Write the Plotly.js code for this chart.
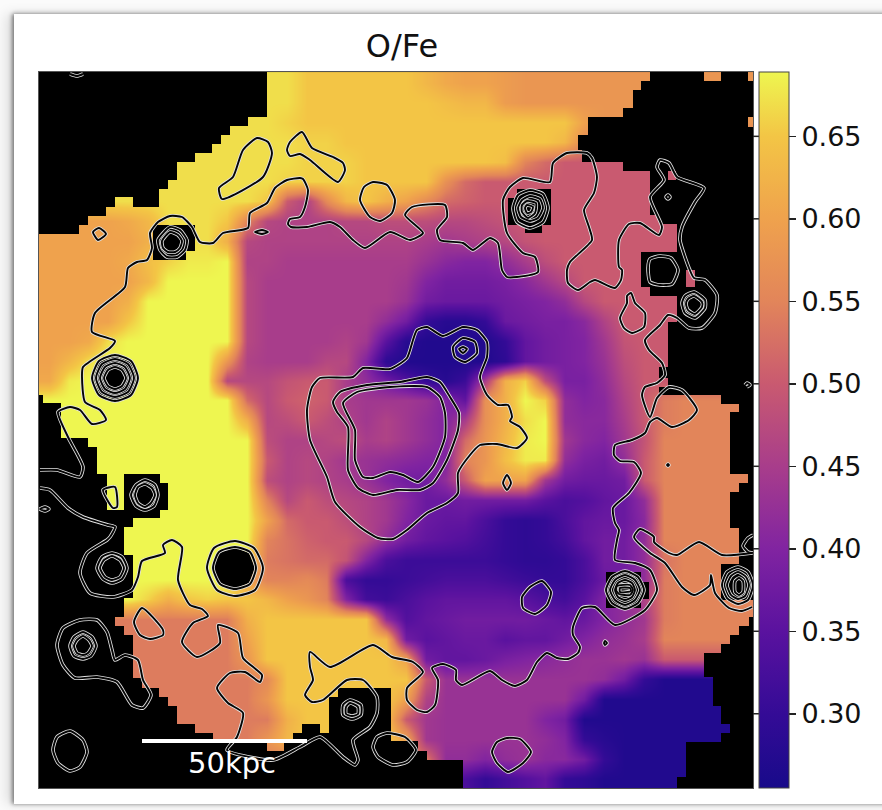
<!DOCTYPE html>
<html>
<head>
<meta charset="utf-8">
<script src="https://cdn.plot.ly/plotly-3.0.1.min.js"></script>
<style>
html,body{margin:0;padding:0;background:#fbfbfb;width:882px;height:810px;overflow:hidden}
#card{position:absolute;left:14px;top:14px;width:900px;height:790px;background:#fff;box-shadow:-2px 0 4px rgba(0,0,0,.45),-8px 0 12px rgba(0,0,0,.12),0 -3px 4px rgba(0,0,0,.05)}
#chart{position:absolute;left:0;top:0;width:882px;height:810px}
</style>
</head>
<body>
<div id="card"></div>
<div id="chart"></div>
<script>
// O/Fe ratio, in hundredths, on a 36 x 36 grid (top row first)
const ratioRows = [
[67,67,67,67,67,67,67,67,67,67,67,67,67,65,65,65,65,65,65,63,61,60,60,59,58,58,58,58,58,58,58,58,58,58,58,58],
[67,67,67,67,67,67,67,67,67,67,67,67,67,65,65,65,65,65,65,65,64,63,63,59,58,58,58,58,58,58,58,58,58,58,58,58],
[67,67,67,67,67,67,67,67,67,67,67,67,66,65,65,65,65,65,65,65,65,65,65,65,65,65,65,60,58,58,58,58,58,58,58,58],
[67,67,67,67,67,67,67,67,67,67,67,67,67,66,66,65,65,65,65,65,65,65,65,65,65,65,63,56,54,52,52,52,52,52,52,52],
[67,67,67,67,67,67,67,67,67,67,67,67,67,66,66,66,65,65,65,65,65,65,65,64,55,52,50,50,50,50,50,50,50,50,50,50],
[67,67,67,67,67,67,67,67,67,67,67,67,66,66,66,66,65,65,65,65,57,52,50,50,50,50,50,50,50,50,50,50,50,50,50,50],
[67,67,67,67,67,67,67,67,67,67,67,65,50,46,56,63,65,62,60,56,52,51,50,50,50,50,50,50,50,50,50,50,50,50,50,50],
[60,60,60,60,61,63,67,67,67,65,55,47,46,46,46,47,47,48,48,48,47,47,48,49,50,50,50,50,50,50,50,50,50,50,50,50],
[60,60,60,60,60,62,66,67,67,62,47,46,46,46,46,46,46,46,46,45,44,45,46,47,49,50,50,50,50,50,50,50,50,50,50,50],
[60,60,60,60,61,64,66,68,68,69,46,46,45,45,45,45,45,45,45,43,41,40,40,42,45,48,50,50,50,50,50,50,50,50,50,50],
[60,60,60,60,60,63,69,69,69,69,47,45,45,45,45,45,45,45,44,40,38,38,38,39,41,44,47,50,50,50,50,50,50,50,50,50],
[60,60,60,60,62,69,69,69,69,69,47,45,45,45,45,45,45,45,43,38,37,37,37,38,39,40,42,47,50,50,50,50,50,50,50,50],
[60,60,60,60,65,69,69,69,69,69,47,45,45,45,45,45,45,42,38,30,28,28,30,37,38,39,39,41,46,50,50,50,50,50,50,50],
[60,60,61,67,69,69,69,69,69,69,47,45,45,45,45,46,44,35,28,27,27,27,27,30,36,38,39,40,44,49,50,50,50,50,50,50],
[60,63,67,69,69,69,69,69,69,58,46,45,45,45,47,47,40,29,27,27,27,27,27,29,36,38,39,40,43,48,50,50,50,50,50,50],
[61,68,69,69,69,69,69,69,69,47,47,47,49,50,50,45,42,38,34,30,28,31,45,62,66,48,39,39,42,47,50,50,50,50,50,50],
[69,69,69,69,69,69,69,69,69,69,52,47,50,51,50,45,44,44,44,43,40,36,57,62,69,66,42,40,41,46,50,54,55,55,55,55],
[69,69,69,69,69,69,69,69,69,69,62,47,48,50,48,46,44,46,44,42,40,45,57,62,67,69,42,41,41,45,50,54,55,55,55,55],
[69,69,69,69,69,69,69,69,69,69,69,48,46,46,47,48,45,46,44,42,40,52,58,63,68,69,44,41,40,44,49,55,55,55,55,55],
[69,69,69,69,69,69,69,69,69,69,69,50,46,47,46,44,43,42,41,40,40,55,58,64,68,68,42,39,38,42,50,55,55,55,55,55],
[69,69,69,69,69,69,69,69,69,69,69,48,46,47,46,45,43,40,38,38,42,50,60,60,60,44,38,37,37,38,50,55,55,55,55,55],
[69,69,69,69,69,69,69,69,69,69,69,55,47,50,48,47,46,44,41,37,37,38,38,38,38,35,33,34,36,37,42,55,55,55,55,55],
[69,69,69,69,69,69,69,69,69,69,69,60,52,50,50,48,46,44,40,37,36,36,33,30,29,30,33,36,37,37,41,55,55,55,55,55],
[69,69,69,69,69,69,69,69,69,69,69,55,53,51,50,50,47,42,38,36,35,34,32,30,29,30,32,36,38,38,42,55,55,55,55,55],
[69,69,69,69,69,69,69,69,69,69,67,54,53,52,52,49,40,33,31,31,31,31,31,30,29,29,30,33,38,38,42,53,55,55,55,55],
[69,69,69,69,69,69,69,69,69,69,60,55,55,56,54,33,30,30,31,32,33,33,33,32,31,30,30,33,37,38,42,54,55,55,55,55],
[69,69,69,69,69,66,62,65,66,65,65,63,60,58,55,40,32,31,33,35,36,36,36,36,35,33,32,35,40,42,46,54,55,55,55,55],
[54,54,54,54,54,54,54,54,54,54,62,65,65,65,65,65,65,42,34,36,37,38,38,38,38,37,36,37,40,42,44,54,55,55,55,55],
[54,54,54,54,54,54,54,54,54,54,60,65,65,65,65,65,65,63,38,35,36,37,37,35,36,36,38,40,42,43,45,55,55,55,55,55],
[54,54,54,54,54,54,54,54,54,54,58,65,65,65,65,65,65,65,60,38,36,36,37,39,40,41,42,43,43,44,43,50,50,50,50,50],
[54,54,54,54,54,54,54,54,54,54,54,56,65,65,65,65,65,65,65,50,43,43,43,43,43,43,43,43,42,38,30,27,27,27,27,27],
[54,54,54,54,54,54,54,54,54,54,54,58,65,65,65,65,65,65,60,46,43,43,43,43,43,43,43,38,27,27,27,27,27,27,27,27],
[54,54,54,54,54,54,54,54,54,54,54,54,62,65,65,65,65,65,50,44,43,43,43,43,43,40,38,27,27,27,27,27,27,27,27,27],
[54,54,54,54,54,54,54,54,54,54,54,58,63,65,65,65,65,65,60,44,43,43,43,43,43,42,40,30,28,27,27,27,27,27,27,27],
[54,54,54,54,54,54,54,54,54,54,54,54,54,54,54,54,54,54,54,54,42,42,40,42,43,41,41,38,30,27,27,27,27,27,27,27],
[54,54,54,54,54,54,54,54,54,54,54,54,54,54,54,54,54,54,54,54,35,33,30,32,34,36,30,29,27,27,27,27,27,27,27,27]
];
const tickValues = [0.30,0.35,0.40,0.45,0.50,0.55,0.60,0.65];
const tickLabels = ['0.30','0.35','0.40','0.45','0.50','0.55','0.60','0.65'];
const ratioMin = 0.255, ratioMax = 0.689;
const chartTitle = 'O/Fe';
const scaleLabel = '50kpc';
const scaleBar = [[142,741],[307,741]];

// masked (no data) sky, in axis units: x0,y0,x1,y1
const maskBoxes = [
[39,72,267,117],[39,117,248,126],[39,126,230,135],[39,135,221,144],[39,144,212,153],[39,153,195,162],[39,162,177,180],[39,180,168,189],[39,189,159,197],[39,197,115,207],[133,197,159,207],[39,207,106,216],[39,216,88,225],[39,225,79,234],
[153,225,195,251],[153,251,186,260],
[650,72,704,81],[721,72,748,81],[641,81,753,90],[633,90,753,108],[623,108,753,117],[588,117,748,127],[588,127,753,135],[578,135,753,150],[582,150,753,162],[623,162,753,171],[650,171,668,180],[676,171,753,180],[650,180,753,215],[659,215,753,224],[677,224,753,252],[641,252,753,270],[641,270,686,287],[695,270,753,287],[650,287,753,296],[677,296,753,322],[668,322,753,367],[659,367,753,378],[668,378,753,387],[659,387,753,395],
[721,395,753,404],[739,404,753,412],[730,412,753,474],[748,474,753,483],[739,483,753,492],[730,492,753,528],[739,528,753,564],[721,564,753,600],
[749,617,753,626],[739,626,753,635],[730,635,753,644],[721,644,753,653],[704,653,753,677],[713,677,753,706],[721,706,753,724],[730,724,753,733],[721,733,753,742],[686,742,753,777],[677,777,753,788],
[606,572,641,608],[641,582,649,599],[517,189,551,225],[508,198,517,225],[525,225,542,233],
[39,395,43,403],[39,403,61,438],[39,438,88,447],[39,447,97,474],[39,474,107,510],[39,510,160,518],[124,474,160,510],[160,483,168,510],[39,518,133,527],[39,527,124,555],[39,555,133,598],[39,598,124,617],[39,617,115,626],[39,626,124,635],[39,635,133,678],[39,678,142,688],[39,688,159,697],[39,697,168,706],[39,706,177,724],[39,724,195,733],[39,733,213,741],[39,741,267,788],[267,751,284,788],[284,741,418,751],[284,751,427,760],[284,760,463,788],
[338,688,391,742],[329,697,338,742],[302,724,320,742],[293,733,329,742]
];
const maskHoles = [
[115,356,131,362,137,378,131,394,115,400,99,394,93,378,99,362],
[234,547,249,553,255,568,249,583,234,589,219,583,213,568,219,553]
];

// X-ray surface brightness contours, in axis units: x,y,x,y...
const contourMain = [40,470,57,470,80,477,83,467,68,437,58,412,70,407,80,410,92,424,106,420,100,410,85,402,82,377,83,367,110,348,115,341,92,332,95,313,125,287,128,268,137,262,147,260,152,248,150,233,158,222,170,216,182,217,192,227,200,242,213,243,223,233,248,228,250,213,267,203,275,188,287,180,300,178,303,179,308,190,305,207,300,217,290,219,288,224,291,227,307,227,330,222,340,227,353,240,365,248,390,232,410,240,423,233,405,215,412,207,445,205,447,217,437,230,440,240,463,243,473,250,490,238,498,243,502,270,507,277,517,277,538,272,535,257,523,253,507,233,503,200,510,187,523,178,550,182,553,163,567,153,587,153,592,158,597,177,594,193,584,210,589,227,592,240,570,262,567,270,568,283,578,290,590,282,595,280,615,288,621,280,622,270,619,267,619,240,629,224,640,223,659,235,662,227,650,197,664,180,657,167,660,160,669,163,677,177,704,188,695,202,682,227,680,240,689,268,694,278,705,280,717,295,715,313,702,328,689,328,677,318,668,315,660,325,645,340,649,350,662,363,665,375,657,383,645,387,642,395,650,417,657,398,669,387,682,390,697,410,689,420,672,427,657,418,650,422,645,433,632,440,615,445,614,455,620,461,634,462,641,473,629,493,613,508,615,523,619,530,617,540,615,560,635,563,650,570,657,590,645,610,615,625,595,607,582,608,573,627,573,635,580,647,578,653,568,659,557,658,547,653,537,662,527,680,515,686,502,680,490,671,462,685,456,680,456,670,443,664,432,668,438,680,435,705,427,712,417,710,407,700,407,688,423,672,413,662,392,657,373,645,330,667,310,652,310,667,313,680,305,695,312,702,323,700,347,680,363,680,377,697,377,713,370,727,353,740,358,760,355,765,343,757,320,737,300,747,273,760,227,750,237,737,243,713,228,703,217,688,230,673,245,672,260,682,262,675,243,658,238,633,218,625,220,643,197,657,182,642,193,623,208,616,202,609,190,605,178,580,182,547,172,540,163,545,165,553,142,561,138,577,132,590,113,597,90,593,80,573,87,553,107,540,110,537,115,527,108,525,83,517,68,508,50,490,40,488];
const contourCore = [417,330,427,327,443,336,463,327,477,330,487,342,487,357,480,377,487,395,498,405,508,405,512,417,510,421,520,427,527,438,517,448,497,444,480,445,470,455,458,473,458,493,447,503,427,513,407,530,393,539,378,538,360,527,335,502,327,477,310,440,307,410,312,387,320,378,353,377,363,368,390,369,407,358,413,340,417,330];
const contourRing1 = [333,402,340,392,367,385,400,382,427,377,440,382,450,397,459,413,458,430,447,460,433,483,420,490,397,490,373,495,358,488,348,470,348,427,337,412,333,402];
const contourRing2 = [343,403,357,392,390,387,427,387,440,397,445,413,445,437,433,467,418,482,403,475,390,472,373,478,363,477,355,460,355,430,343,403];
const contourEast = [752,553,722,555,699,542,677,555,669,553,654,542,654,537,640,529,634,537,650,553,665,563,682,587,694,595,710,585,711,575,715,593,729,608,742,611,752,607];
const contourSW = [57,645,63,628,80,620,97,620,107,632,112,650,115,660,125,655,138,660,143,680,151,695,143,708,132,705,117,682,97,677,75,678,63,665,57,645];
const contourBlobs = [
[463,338,475,342,477,353,465,362,455,357,453,347,463,338],
[463,347,467,349,463,353,459,349,463,347],
[507,475,511,483,507,490,503,483,507,475],
[257,138,268,142,272,153,263,177,222,199,219,188,233,177,243,150,257,138],
[302,132,312,148,333,157,343,163,345,170,338,182,310,160,300,154,290,156,287,150,290,142,302,132],
[373,182,387,185,395,200,392,213,380,221,370,217,360,200,364,187,373,182],
[255,232,262,230,268,232,262,234,255,232],
[93,232,99,228,106,234,98,240,93,232],
[70,74,77,76,83,74],
[170,227,180,230,187,240,185,250,177,257,167,257,160,250,158,240,170,227],
[170,232,178,235,182,241,180,248,175,252,168,252,163,248,162,241,170,232],
[530,190,543,194,548,208,543,222,530,228,517,222,513,208,518,195,530,190],
[530,196,540,199,543,208,538,218,530,221,521,217,518,208,522,200,530,196],
[527,201,536,203,535,213,528,218,522,212,522,205,527,201],
[527,205,533,207,531,212,527,213,525,208,527,205],
[666,197,668,195,670,197,668,199,666,197],
[660,256,671,258,678,270,672,284,660,285,650,282,648,268,650,259,660,256],
[694,292,705,300,705,308,695,318,685,313,682,303,685,296,694,292],
[694,296,702,302,702,307,695,314,688,310,686,304,688,299,694,296],
[631,293,635,303,645,313,644,327,632,333,624,328,620,318,627,303,627,296,631,293],
[745,385,747,383,750,385,747,387],
[667,465,668,464,669,465,668,466,667,465],
[604,643,605,641,607,643,605,645,604,643],
[625,571,638,577,644,590,638,603,625,609,612,603,606,590,612,577,625,571],
[625,575,635,580,640,590,635,600,625,605,615,600,610,590,615,580,625,575],
[625,580,632,583,635,590,632,597,625,600,618,597,615,590,618,583,625,580],
[617,586,630,585,633,590,630,595,619,594,616,590,617,586],
[620,588,630,588,631,591,620,592,620,588],
[738,567,748,572,753,585,748,600,738,604,727,598,722,585,727,572,738,567],
[738,572,746,577,749,585,745,596,738,599,731,595,727,585,731,576,738,572],
[739,578,743,581,743,592,739,595,735,592,735,581,739,578],
[753,535,748,538,743,546,748,552,753,553],
[115,355,131,361,138,378,131,395,115,401,99,395,92,378,99,361,115,355],
[115,359,128,364,134,378,128,392,115,397,102,392,96,378,102,364,115,359],
[115,363,125,367,130,378,125,389,115,393,105,389,100,378,105,367,115,363],
[115,367,122,370,126,378,122,386,115,389,108,386,104,378,108,370,115,367],
[145,480,155,485,158,495,154,506,145,510,136,506,131,495,136,485,145,480],
[145,484,152,488,155,495,151,503,145,507,138,503,135,495,138,487,145,484],
[103,490,115,487,117,507,113,508,103,490],
[40,509,45,507,49,509,45,511,40,509],
[112,553,122,557,127,568,122,579,112,583,103,579,97,568,102,557,112,553],
[112,556,120,560,124,568,120,577,112,580,105,577,100,568,104,560,112,556],
[83,632,92,637,96,646,91,656,83,659,74,656,70,646,74,637,83,632],
[83,636,89,640,92,646,88,653,83,655,77,653,74,646,77,640,83,636],
[70,731,83,740,87,752,80,767,70,771,58,763,53,750,57,737,70,731],
[142,608,163,630,163,635,150,639,140,635,134,622,142,608],
[235,541,254,548,263,568,255,590,235,596,217,590,207,568,214,548,235,541],
[235,547,250,552,256,568,250,584,235,589,220,584,213,568,219,552,235,547],
[350,700,361,705,361,715,352,719,343,715,343,705,350,700],
[350,703,358,707,358,714,352,716,346,714,346,707,350,703],
[387,733,405,737,416,750,407,762,393,765,378,757,373,747,377,737,387,733],
[507,738,520,739,531,752,523,763,508,772,497,763,492,752,497,742,507,738],
[542,581,551,592,547,605,535,614,523,608,522,597,530,587,542,581]
];

const colourStops = [
[0,'#180a8a'],[0.104,'#340b96'],[0.219,'#5a129f'],[0.334,'#8124a1'],[0.449,'#a83d8b'],[0.565,'#c95a70'],[0.68,'#e2855a'],[0.795,'#efa24d'],[0.91,'#f3c545'],[1,'#eef650']
];

// ---- build traces ----
const ratio = ratioRows.map(r => r.map(v => v / 100));

const maskX = [], maskY = [];
maskBoxes.forEach(b => {
  maskX.push(b[0],b[2],b[2],b[0],b[0],null);
  maskY.push(b[1],b[1],b[3],b[3],b[1],null);
});
maskHoles.forEach(p => {
  for (let i = 0; i < p.length; i += 2) { maskX.push(p[i]); maskY.push(p[i+1]); }
  maskX.push(p[0],null); maskY.push(p[1],null);
});

const contourX = [], contourY = [];
[contourMain, contourCore, contourRing1, contourRing2, contourEast, contourSW, ...contourBlobs].forEach(p => {
  for (let i = 0; i < p.length; i += 2) { contourX.push(p[i]); contourY.push(p[i+1]); }
  contourX.push(null); contourY.push(null);
});

const traces = [
  {type:'heatmap', z:ratio, x0:48.9, dx:19.83, y0:82, dy:19.9, zsmooth:'best', zmin:ratioMin, zmax:ratioMax,
   colorscale:colourStops, hoverinfo:'skip',
   colorbar:{thicknessmode:'pixels',thickness:30,lenmode:'fraction',len:1,x:1.0084,xanchor:'left',xpad:0,y:0.5,yanchor:'middle',ypad:0,
     outlinewidth:1,outlinecolor:'#444',tickmode:'array',tickvals:tickValues,ticktext:tickLabels,ticks:'outside',ticklen:7,tickwidth:1.5,tickcolor:'#222',
     tickfont:{family:'DejaVu Sans',size:27,color:'#111'}}},
  {type:'scatter', mode:'lines', x:maskX, y:maskY, fill:'toself', fillcolor:'#000', line:{width:0,color:'#000'}, hoverinfo:'skip', connectgaps:false},
  {type:'scatter', mode:'lines', x:contourX, y:contourY, line:{color:'#e2e2e2',width:3.6,shape:'spline',smoothing:0.6}, hoverinfo:'skip'},
  {type:'scatter', mode:'lines', x:contourX, y:contourY, line:{color:'#050505',width:1.9,shape:'spline',smoothing:0.6}, hoverinfo:'skip'},
  {type:'scatter', mode:'lines', x:scaleBar.map(p=>p[0]), y:scaleBar.map(p=>p[1]), line:{color:'#fff',width:4}, hoverinfo:'skip'}
];

const layout = {
  width:882, height:810, margin:{l:39,r:129,t:72,b:22},
  paper_bgcolor:'rgba(0,0,0,0)', plot_bgcolor:'#000', showlegend:false,
  title:{text:chartTitle, font:{family:'DejaVu Sans',size:32,color:'#111'}, xref:'container', x:402/882, xanchor:'center', yref:'container', y:1-46/810, yanchor:'middle'},
  xaxis:{range:[39,753], showgrid:false, zeroline:false, showticklabels:false, ticks:'', showline:true, mirror:true, linecolor:'#555', linewidth:1, fixedrange:true},
  yaxis:{range:[788,72], showgrid:false, zeroline:false, showticklabels:false, ticks:'', showline:true, mirror:true, linecolor:'#555', linewidth:1, fixedrange:true},
  annotations:[{x:232, y:763, xref:'x', yref:'y', text:scaleLabel, showarrow:false, font:{family:'DejaVu Sans',size:29,color:'#fff'}}],
  shapes: tickValues.map(v => {
    const yy = (ratioMax - v) / (ratioMax - ratioMin);
    return {type:'line', xref:'paper', yref:'paper', x0:1, x1:1.0084, y0:1-yy, y1:1-yy, line:{color:'#222',width:1.5}};
  })
};
Plotly.newPlot('chart', traces, layout, {displayModeBar:false, staticPlot:true});
</script>
</body>
</html>
